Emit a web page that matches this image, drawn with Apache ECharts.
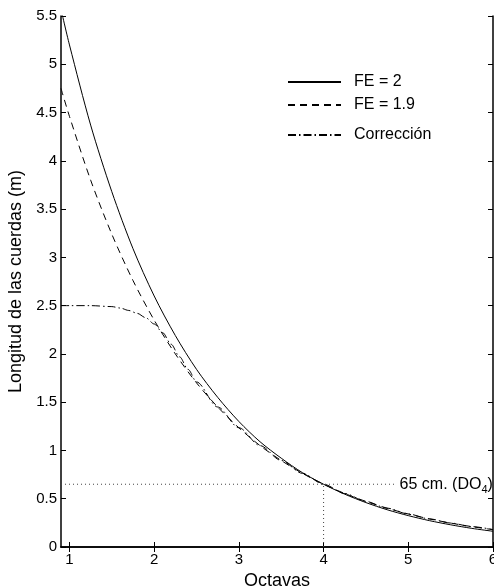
<!DOCTYPE html>
<html><head><meta charset="utf-8">
<script src="https://cdn.jsdelivr.net/npm/echarts@6/dist/echarts.min.js"></script>
<style>html,body{margin:0;padding:0;background:#fff}#c{width:494px;height:587px}</style>
</head><body><div id="c"></div>
<script>
var octaves = [0.9, 1.0, 1.25, 1.5, 1.75, 2.0, 2.25, 2.5, 2.75, 3.0, 3.25, 3.5, 3.75, 4.0, 4.25, 4.5, 4.75, 5.0, 5.25, 5.5, 5.75, 6.0];
var fe2 =  [5.57, 5.20, 4.37, 3.68, 3.09, 2.60, 2.19, 1.84, 1.55, 1.30, 1.09, 0.92, 0.77, 0.65, 0.547, 0.46, 0.386, 0.325, 0.273, 0.23, 0.193, 0.163];
var fe19 = [4.75, 4.46, 3.80, 3.24, 2.76, 2.35, 2.00, 1.70, 1.45, 1.235, 1.05, 0.896, 0.763, 0.65, 0.554, 0.472, 0.402, 0.342, 0.291, 0.248, 0.211, 0.180];
var corrOctaves = [0.9, 1.0, 1.25, 1.5, 1.6, 1.7, 1.8, 1.9, 2.0, 2.1, 2.2, 2.3, 2.4, 2.5, 2.75, 3.0, 3.25, 3.5, 3.75, 4.0, 4.25, 4.5, 4.75, 5.0, 5.25, 5.5, 5.75, 6.0];
var correccion = [2.50, 2.50, 2.50, 2.49, 2.475, 2.45, 2.42, 2.375, 2.31, 2.22, 2.10, 1.97, 1.84, 1.71, 1.45, 1.235, 1.05, 0.896, 0.763, 0.65, 0.554, 0.472, 0.402, 0.342, 0.291, 0.248, 0.211, 0.180];
var xTicks = [1, 2, 3, 4, 5, 6];
var seriesNames = ['FE = 2', 'FE = 1.9', 'Corrección'];
var refLength = 0.65;
var refOctave = 4;
var refLineEnd = 4.85;
var xMin = 0.9, xMax = 6, yMin = 0, yMax = 5.5, yStep = 0.5;

function pairs(xs, ys){ return xs.map(function(x,i){ return [x, ys[i]]; }); }
var FONT = 'Liberation Sans, Arial, Helvetica, sans-serif';
var chart = echarts.init(document.getElementById('c'));
var axisLine = {show:true, lineStyle:{color:'#000', width:1.5}};
function leg(name, top){
  return {data:[name], left:287, top:top, padding:0, itemWidth:53, itemHeight:14,
    itemStyle:{opacity:0},
    textStyle:{fontSize:16, color:'#000', fontFamily:FONT, padding:[0,0,0,8]}};
}
var option = {
  animation:false,
  backgroundColor:'#fff',
  textStyle:{fontFamily:FONT},
  grid:{left:61, right:1, top:16, bottom:40, containLabel:false, outerBoundsMode:'none'},
  legend:[leg(seriesNames[0], 74), leg(seriesNames[1], 97), leg(seriesNames[2], 127)],
  xAxis:[
    {type:'value', min:xMin, max:xMax, name:'Octavas', nameLocation:'middle', nameGap:21,
     nameTextStyle:{fontSize:18, color:'#000', fontFamily:FONT},
     axisLine:axisLine, splitLine:{show:false},
     axisTick:{show:true, inside:true, length:5, customValues:xTicks, lineStyle:{color:'#000'}},
     axisLabel:{customValues:xTicks, color:'#000', fontSize:15, margin:5, fontFamily:FONT, showMinLabel:true, showMaxLabel:true}},
    {type:'value', position:'top', min:xMin, max:xMax,
     axisLine:axisLine, splitLine:{show:false},
     axisTick:{show:true, inside:true, length:5, customValues:xTicks, lineStyle:{color:'#000'}},
     axisLabel:{show:false}}
  ],
  yAxis:[
    {type:'value', min:yMin, max:yMax, interval:yStep, name:'Longitud de las cuerdas (m)', nameLocation:'middle', nameGap:33,
     nameTextStyle:{fontSize:18, color:'#000', fontFamily:FONT},
     axisLine:axisLine, splitLine:{show:false},
     axisTick:{show:true, inside:true, length:5, lineStyle:{color:'#000'}},
     axisLabel:{color:'#000', fontSize:15, margin:4, fontFamily:FONT}},
    {type:'value', position:'right', min:yMin, max:yMax, interval:yStep,
     axisLine:axisLine, splitLine:{show:false},
     axisTick:{show:true, inside:true, length:5, lineStyle:{color:'#000'}},
     axisLabel:{show:false}}
  ],
  series:[
    {name:seriesNames[0], type:'line', data:pairs(octaves, fe2), smooth:0.3, showSymbol:false, symbol:'none',
     lineStyle:{color:'#000', width:1, type:'solid'}, itemStyle:{color:'#000'}},
    {name:seriesNames[1], type:'line', data:pairs(octaves, fe19), smooth:0.3, showSymbol:false, symbol:'none',
     lineStyle:{color:'#000', width:1, type:[7,5]}, itemStyle:{color:'#000'}},
    {name:seriesNames[2], type:'line', data:pairs(corrOctaves, correccion), smooth:0.3, smoothMonotone:'x', showSymbol:false, symbol:'none',
     lineStyle:{color:'#000', width:1, type:[8,3,1.5,3]}, itemStyle:{color:'#000'}},
    {type:'line', data:[[xMin, refLength],[refLineEnd, refLength]], symbol:'none', silent:true,
     lineStyle:{color:'#444', width:1, type:[1,3]},
     endLabel:{show:true, distance:4, color:'#000', fontSize:16, fontFamily:FONT,
       formatter:'65 cm. (DO{s|4})', rich:{s:{fontSize:11, verticalAlign:'bottom', padding:[12,0,0,0], fontFamily:FONT}}}},
    {type:'line', data:[[refOctave, 0],[refOctave, refLength]], symbol:'none', silent:true,
     lineStyle:{color:'#444', width:1, type:[1,3]}}
  ]
};
chart.setOption(option);
</script></body></html>
